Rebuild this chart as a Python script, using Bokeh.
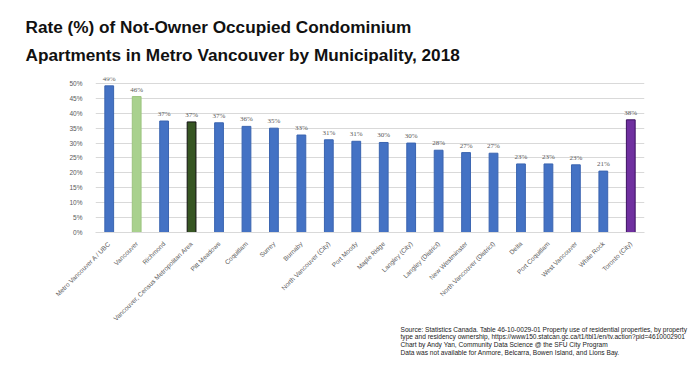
import math
from bokeh.plotting import figure
from bokeh.models import ColumnDataSource, FixedTicker, LabelSet, PrintfTickFormatter, Title
from bokeh.embed import file_html
from bokeh.resources import INLINE

municipalities = [
    "Metro Vancouver A / UBC", "Vancouver", "Richmond",
    "Vancouver, Census Metropolitan Area", "Pitt Meadows", "Coquitlam",
    "Surrey", "Burnaby", "North Vancouver (City)", "Port Moody",
    "Maple Ridge", "Langley (City)", "Langley (District)", "New Westminster",
    "North Vancouver (District)", "Delta", "Port Coquitlam",
    "West Vancouver", "White Rock", "Toronto (City)",
]
rates = [49.2, 45.6, 37.4, 37.1, 36.8, 35.6, 35.0, 32.7, 31.1, 30.6,
         30.2, 30.0, 27.6, 26.8, 26.6, 23.0, 23.0, 22.7, 20.6, 37.8]
fill_colors = ["#4472C4", "#A9D18E", "#4472C4", "#375623"] + ["#4472C4"] * 15 + ["#7030A0"]
line_colors = ["#3A64B0", "#9CC47F", "#3A64B0", "#111111"] + ["#3A64B0"] * 15 + ["#3B1060"]
y_ticks = [0, 5, 10, 15, 20, 25, 30, 35, 40, 45, 50]

title_lines = ["Rate (%) of Not-Owner Occupied Condominium",
               "Apartments in Metro Vancouver by Municipality, 2018"]
footnote_lines = [
    "Source:  Statistics Canada. Table 46-10-0029-01 Property use of residential properties, by property",
    "type and residency ownership, https://www150.statcan.gc.ca/t1/tbl1/en/tv.action?pid=4610002901",
    "Chart by Andy Yan, Community Data Science @ the SFU City Program",
    "Data was not available for Anmore, Belcarra, Bowen Island, and Lions Bay.",
]

labels = [f"{round(r)}%" for r in rates]
src = ColumnDataSource(dict(name=municipalities, rate=rates, fill=fill_colors,
                            line=line_colors, lab=labels))

FONT = "Liberation Sans"
GRAY = "#595959"

p = figure(x_range=municipalities, y_range=(0, 52), width=700, height=369,
           output_backend="svg", toolbar_location=None,
           min_border_left=95, min_border_right=56, min_border_top=77,
           min_border_bottom=137)
p.outline_line_color = None

p.vbar(x="name", top="rate", width=0.32, source=src, fill_color="fill",
       line_color="line", line_width=1)

p.add_layout(LabelSet(x="name", y="rate", text="lab", source=src, y_offset=3,
                      text_align="center", text_baseline="bottom",
                      text_font=FONT, text_font_size="7px", text_color=GRAY))

p.xgrid.grid_line_color = None
p.ygrid.grid_line_color = "#D9D9D9"
p.ygrid.ticker = FixedTicker(ticks=y_ticks)

p.yaxis.ticker = FixedTicker(ticks=y_ticks)
p.yaxis.formatter = PrintfTickFormatter(format="%d%%")
p.yaxis.axis_line_color = None
p.yaxis.major_tick_line_color = None
p.yaxis.minor_tick_line_color = None
p.yaxis.major_label_text_font = FONT
p.yaxis.major_label_text_font_size = "6.5px"
p.yaxis.major_label_text_color = GRAY
p.yaxis.major_label_standoff = 7

p.xaxis.axis_line_color = "#D9D9D9"
p.xaxis.major_tick_line_color = None
p.xaxis.minor_tick_line_color = None
p.xaxis.major_label_orientation = math.pi / 4
p.xaxis.major_label_text_font = FONT
p.xaxis.major_label_text_font_size = "6.5px"
p.xaxis.major_label_text_color = GRAY
p.xaxis.major_label_standoff = 4

# ---- two-line heading ----
p.add_layout(Title(text="\n".join(title_lines), align="left", offset=-70, standoff=25,
                   text_font=FONT, text_font_style="bold", text_line_height=1.40,
                   text_font_size="17.2px", text_color="#111111"), "above")

# ---- footnote below the x axis ----
p.add_layout(Title(text="\n".join(footnote_lines), align="left", offset=305,
                   standoff=-7, text_font=FONT, text_font_style="normal",
                   text_line_height=1.11, text_font_size="6.6px",
                   text_color="#222222"), "below")

open("out.html", "w").write(file_html(p, INLINE))
